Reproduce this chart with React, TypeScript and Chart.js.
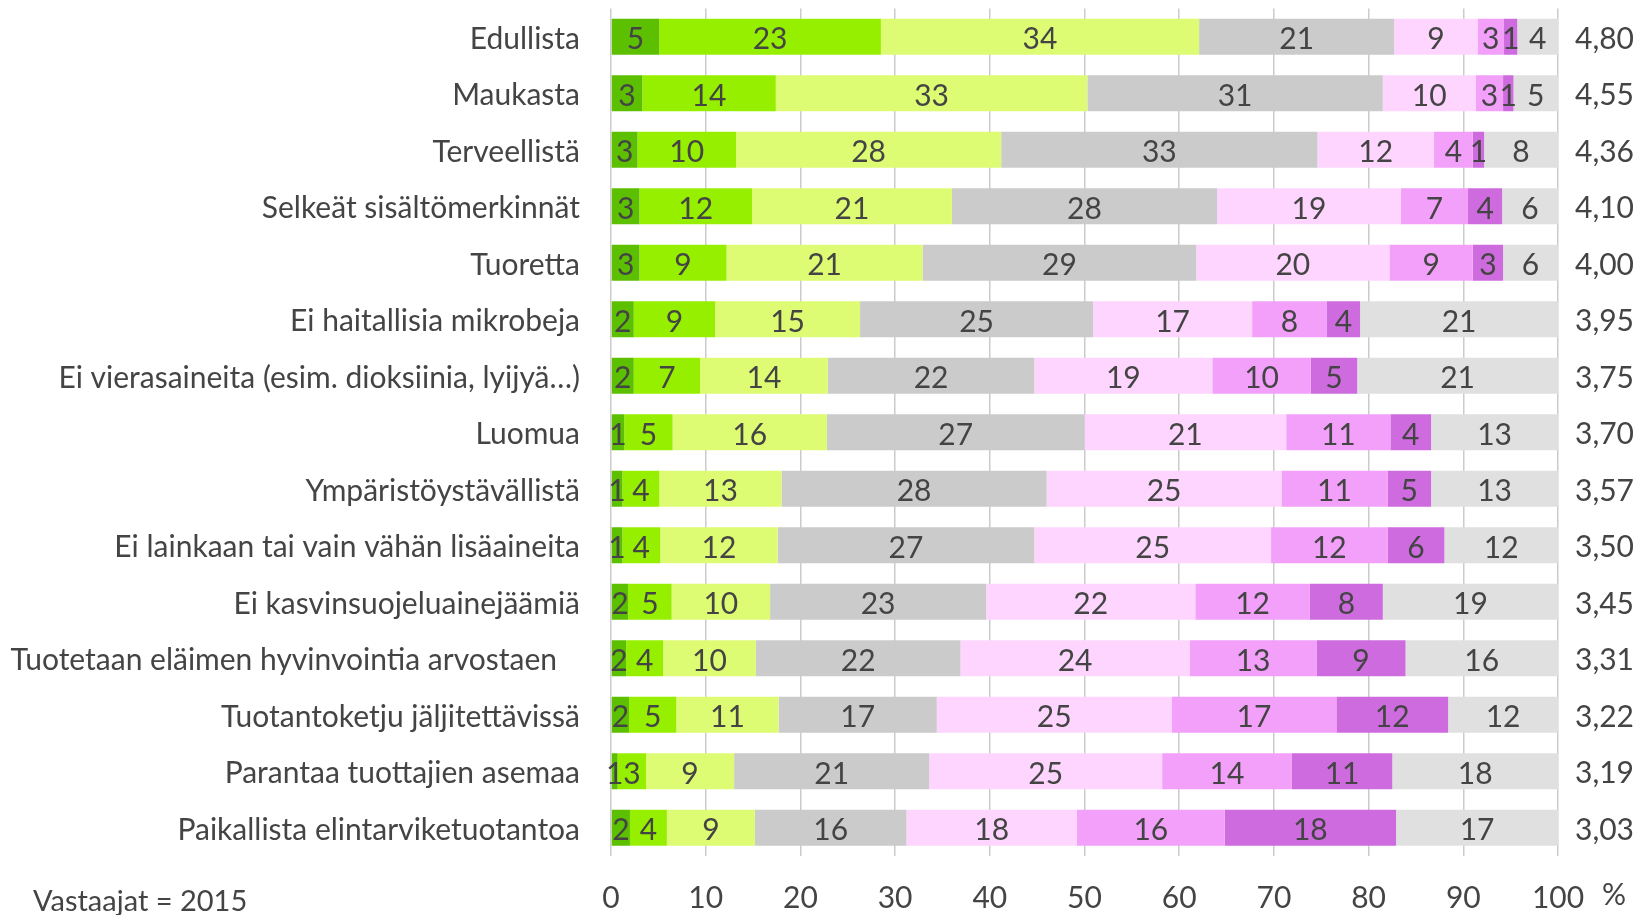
import React, { useEffect, useRef } from 'react';
import { Chart, registerables } from 'chart.js';

Chart.register(...registerables);

const categories = [
  'Edullista',
  'Maukasta',
  'Terveellistä',
  'Selkeät sisältömerkinnät',
  'Tuoretta',
  'Ei haitallisia mikrobeja',
  'Ei vierasaineita (esim. dioksiinia, lyijyä…)',
  'Luomua',
  'Ympäristöystävällistä',
  'Ei lainkaan tai vain vähän lisäaineita',
  'Ei kasvinsuojeluainejäämiä',
  'Tuotetaan eläimen hyvinvointia arvostaen   ',
  'Tuotantoketju jäljitettävissä',
  'Parantaa tuottajien asemaa',
  'Paikallista elintarviketuotantoa',
];

const meanLabels = ['4,80', '4,55', '4,36', '4,10', '4,00', '3,95', '3,75', '3,70', '3,57', '3,50', '3,45', '3,31', '3,22', '3,19', '3,03'];

const level7 = [5.1, 3.3, 2.8, 3.0, 3.0, 2.4, 2.4, 1.4, 1.2, 1.2, 1.8, 1.6, 1.9, 0.7, 2.0];
const level6 = [23.4, 14.1, 10.4, 11.9, 9.2, 8.6, 7.0, 5.1, 3.9, 4.0, 4.6, 3.9, 5.0, 3.0, 3.9];
const level5 = [33.6, 32.9, 28.0, 21.1, 20.7, 15.3, 13.5, 16.3, 12.9, 12.4, 10.4, 9.8, 10.8, 9.3, 9.3];
const level4 = [20.6, 31.2, 33.4, 28.0, 28.9, 24.6, 21.8, 27.2, 28.0, 27.1, 22.8, 21.6, 16.7, 20.6, 16.0];
const level3 = [8.8, 9.8, 12.3, 19.4, 20.4, 16.8, 18.8, 21.3, 24.8, 25.0, 22.1, 24.2, 24.8, 24.6, 18.0];
const level2 = [2.8, 2.9, 4.1, 7.1, 8.8, 7.9, 10.4, 11.0, 11.2, 12.3, 12.1, 13.4, 17.4, 13.7, 15.6];
const level1 = [1.4, 1.1, 1.2, 3.6, 3.2, 3.5, 4.9, 4.3, 4.6, 6.0, 7.7, 9.4, 11.8, 10.6, 18.1];
const noAnswer = [4.3, 4.7, 7.8, 5.9, 5.8, 20.9, 21.2, 13.4, 13.4, 12.0, 18.5, 16.1, 11.6, 17.5, 17.1];

const seriesNames = ['7', '6', '5', '4', '3', '2', '1', 'Ei osaa sanoa'];
const seriesColors = ['#5CC000', '#97EF00', '#DEFC73', '#CBCBCB', '#FDD5FE', '#F2A0FA', '#CE6BDF', '#E0E0E0'];

const xTicks = [0, 10, 20, 30, 40, 50, 60, 70, 80, 90, 100];
const respondentsNote = 'Vastaajat = 2015';
const unitLabel = '%';

const FONT = 'Lato';
const FSIZE = 30;
const TEXT = '#444444';

export default function App() {
  const ref = useRef<HTMLCanvasElement | null>(null);

  useEffect(() => {
    const canvas = ref.current;
    if (!canvas) return;
    const seriesData = [level7, level6, level5, level4, level3, level2, level1, noAnswer];

    const labelPlugin = {
      id: 'segLabels',
      afterDatasetsDraw(chart: any) {
        const ctx = chart.ctx;
        ctx.save();
        ctx.font = `${FSIZE}px ${FONT}`;
        ctx.fillStyle = TEXT;
        ctx.textAlign = 'center';
        ctx.textBaseline = 'middle';
        chart.data.datasets.forEach((ds: any, i: number) => {
          const meta = chart.getDatasetMeta(i);
          meta.data.forEach((bar: any, j: number) => {
            const v = ds.data[j];
            const cx = (bar.x + bar.base) / 2;
            ctx.fillText(String(Math.round(v)), cx, bar.y + 3);
          });
        });
        ctx.restore();
      },
      afterDraw(chart: any) {
        const ctx = chart.ctx;
        ctx.save();
        ctx.font = `${FSIZE}px ${FONT}`;
        ctx.fillStyle = TEXT;
        ctx.textBaseline = 'middle';
        ctx.textAlign = 'center';
        ctx.fillText(unitLabel, 1614, 895);
        ctx.font = `29px ${FONT}`;
        ctx.textAlign = 'left';
        ctx.textBaseline = 'alphabetic';
        ctx.fillText(respondentsNote, 33, 911);
        ctx.restore();
      },
    };

    const chart = new Chart(canvas, {
      type: 'bar',
      data: {
        labels: categories,
        datasets: seriesData.map((d, i) => ({
          label: seriesNames[i],
          data: d,
          backgroundColor: seriesColors[i],
          borderWidth: 0,
          barPercentage: 0.64,
          categoryPercentage: 1,
        })),
      },
      options: {
        indexAxis: 'y',
        responsive: false,
        animation: false,
        layout: { padding: { top: 8.5, left: 0, right: 0, bottom: 0 } },
        plugins: {
          legend: { display: false },
          tooltip: { enabled: false },
          title: { display: false },
        },
        scales: {
          x: {
            type: 'linear',
            stacked: true,
            min: 0,
            max: 100,
            afterBuildTicks: (axis: any) => {
              axis.ticks = xTicks.map((v) => ({ value: v }));
            },
            afterFit: (axis: any) => {
              axis.height = 59;
            },
            grid: { color: '#CBCBCB', lineWidth: 1.5, drawTicks: false },
            border: { display: false },
            ticks: { color: TEXT, font: { family: FONT, size: FSIZE }, padding: 24, maxRotation: 0 },
          },
          y: {
            type: 'category',
            stacked: true,
            position: 'left',
            afterFit: (axis: any) => {
              axis.width = 611;
              axis.paddingTop = 0;
              axis.paddingBottom = 0;
            },
            grid: { display: false, drawTicks: false },
            border: { display: false },
            ticks: { color: TEXT, font: { family: FONT, size: FSIZE }, padding: 31, autoSkip: false, labelOffset: 2.5 },
          },
          y2: {
            type: 'category',
            position: 'right',
            labels: meanLabels,
            offset: true,
            afterFit: (axis: any) => {
              axis.width = 87;
              axis.paddingTop = 0;
              axis.paddingBottom = 0;
            },
            grid: { display: false, drawTicks: false },
            border: { display: false },
            ticks: { color: TEXT, font: { family: FONT, size: FSIZE }, padding: 17, autoSkip: false, labelOffset: 2.5 },
          },
        },
      },
      plugins: [labelPlugin],
    } as any);

    return () => chart.destroy();
  }, []);

  return (
    <div style={{ position: 'fixed', left: 0, top: 0, width: 1645, height: 915, background: '#fff' }}>
      <canvas ref={ref} width={1645} height={915} style={{ width: 1645, height: 915, display: 'block' }} />
    </div>
  );
}
